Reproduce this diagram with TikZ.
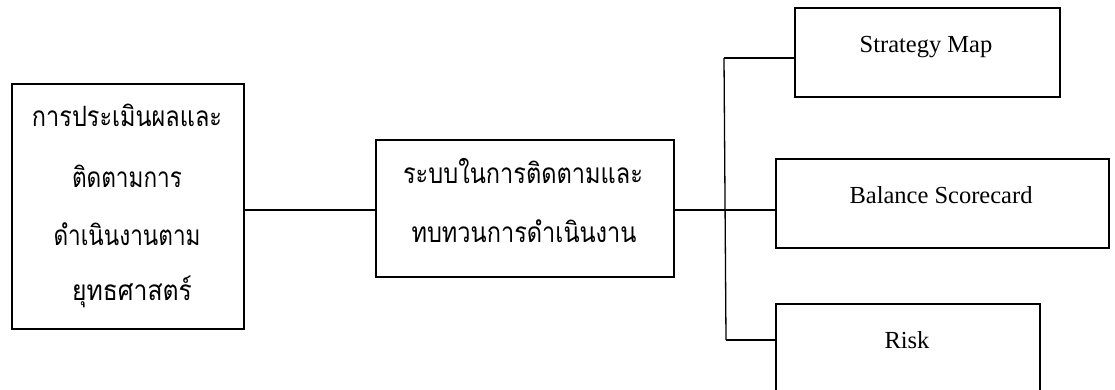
\documentclass[tikz,border=0pt]{standalone}
\usepackage{fontspec}
\usepackage{graphicx}
\setmainfont{Liberation Serif}
\newfontfamily\thaifont[Script=Thai]{Loma}
\newsavebox\fitbox
\newcommand\fitw[2]{\sbox\fitbox{\thaifont #2}\pgfmathsetmacro\fitsx{#1/\the\wd\fitbox}\scalebox{\fitsx}[1]{\usebox\fitbox}}
\tikzset{
  box/.style={draw, line width=1.7pt, rectangle, inner sep=0pt, anchor=north west},
  conn/.style={line width=1.3pt},
  thl/.style={anchor=base, inner sep=0pt, font=\fontsize{28}{32}\selectfont},
  enl/.style={anchor=base, inner sep=0pt, font=\fontsize{24.5}{28}\selectfont},
}
\begin{document}
\begin{tikzpicture}[x=1pt,y=-1pt]
\useasboundingbox (0,0) rectangle (1115,390);
\clip (0,0) rectangle (1115,390);
% boxes
\node[box, minimum width=232pt, minimum height=245pt] (L) at (11,83) {};
\node[box, minimum width=298pt, minimum height=137pt] (M) at (375,139) {};
\node[box, minimum width=265pt, minimum height=89pt] (S) at (794,7) {};
\node[box, minimum width=333pt, minimum height=89pt] (B) at (775,158) {};
\node[box, minimum width=264pt, minimum height=100pt] (R) at (775,303) {};
% texts
\node[thl] (l1) at (127,127) {\fitw{190}{การประเมินผลและ}};
\node[thl] (l2) at (127,187) {\fitw{110}{ติดตามการ}};
\node[thl] (l3) at (127,245) {\fitw{147}{ดำเนินงานตาม}};
\node[thl] (l4) at (132,300) {\fitw{120}{ยุทธศาสตร์}};
\node[thl] (m1) at (523,183) {\fitw{240}{ระบบในการติดตามและ}};
\node[thl] (m2) at (524,242) {\fitw{225}{ทบทวนการดำเนินงาน}};
\node[enl] (st) at (926,53) {Strategy Map};
\node[enl] (bt) at (941,204) {Balance Scorecard};
\node[enl] (rt) at (907,348) {Risk};
% connectors
\coordinate (hub) at (724,210);
\coordinate (top) at (724,58);
\coordinate (bot) at (726,340);
\draw[conn] (L.east |- hub) -- (M.west |- hub);
\draw[conn] (M.east |- hub) -- (B.west |- hub);
\draw[conn] (top) -- (bot);
\draw[conn] (top) -- (S.west |- top);
\draw[conn] (bot) -- (R.west |- bot);
\end{tikzpicture}
\end{document}
